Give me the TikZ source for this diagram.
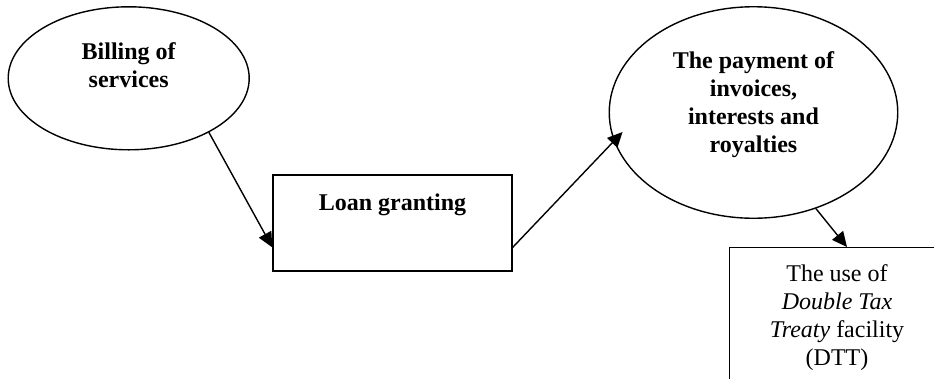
\documentclass[tikz,border=0pt]{standalone}
\usepackage{fontspec}
\setmainfont{Liberation Serif}
\usetikzlibrary{shapes.geometric,arrows.meta,calc}
\begin{document}
\begin{tikzpicture}[x=1pt,y=-1pt,
  shapeline/.style={draw=black,line width=1.4pt,inner sep=0pt},
  oval/.style={shapeline,ellipse},
  boxnode/.style={shapeline,rectangle},
  label/.style={align=center,inner sep=0pt,font=\fontsize{24}{28}\selectfont},
  boldlabel/.style={label,font=\fontsize{24}{28}\selectfont\bfseries},
  flow/.style={line width=1.4pt,-{Triangle[length=15pt,width=14pt]}}]
\useasboundingbox (0,0) rectangle (934,389);
\fill[white] (0,0) rectangle (934,389);
% nodes
\node[oval,minimum width=241pt,minimum height=143pt] (e1) at (128.7,78.3) {};
\node[boldlabel] (t1) at (128.7,65) {Billing of\\services};
\node[boxnode,minimum width=239pt,minimum height=96pt] (b2) at (392.5,223) {};
\node[boldlabel,anchor=base] (t2) at (392.5,210) {Loan granting};
\node[oval,minimum width=288.5pt,minimum height=211.5pt] (e2) at (753.5,112.5) {};
\node[boldlabel] (t3) at (753.5,105) {The payment of\\invoices,\\interests and\\royalties};
\begin{scope}
\clip (0,0) rectangle (934,378);
\node[boxnode,anchor=north west,minimum width=220pt,minimum height=140pt] (b3) at (729,247) {};
\end{scope}
\node[label] (t4) at (837,317.6) {The use of\\\textit{Double Tax}\\\textit{Treaty} facility\\(DTT)};
% connectors
\draw[flow] (e1.-34) -- ($(b2.south west)!0.25!(b2.north west)$);
\draw[flow] ($(b2.south east)!0.25!(b2.north east)$) -- ($(e2.west)+(14,19.5)$);
\draw[flow] (e2.-57) -- ($(b3.north west)+(118,0)$);
\end{tikzpicture}
\end{document}
